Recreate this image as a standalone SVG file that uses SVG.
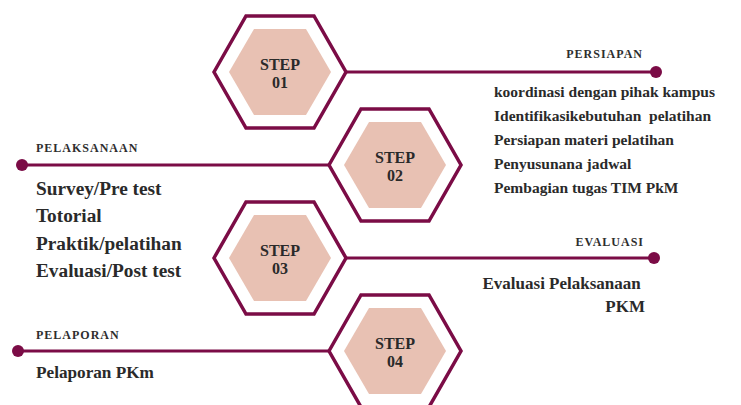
<svg xmlns="http://www.w3.org/2000/svg" width="741" height="405" viewBox="0 0 741 405">
<style>
.outer{fill:#fff;stroke:#7b0c46;stroke-width:3.5;stroke-linejoin:miter}
.inner{fill:#e8c1b3;stroke:none}
.step{font-family:"Liberation Serif",serif;font-weight:bold;font-size:16px;fill:#2a2a2a;text-anchor:middle}
.lbl{font-family:"Liberation Serif",serif;font-weight:bold;font-size:12px;letter-spacing:1px;fill:#2e2e2e}
.item{font-family:"Liberation Serif",serif;font-weight:bold;fill:#2a2a2a}
.conn{stroke:#7b0c46;stroke-width:3;fill:none}
.dot{fill:#7b0c46}
</style>
<g id="connectors">
<line class="conn" x1="346" y1="72" x2="656" y2="72"/>
<circle class="dot" cx="656" cy="72" r="6"/>
<line class="conn" x1="22" y1="165" x2="329" y2="165"/>
<circle class="dot" cx="22" cy="165" r="6"/>
<line class="conn" x1="346" y1="258" x2="654" y2="258"/>
<circle class="dot" cx="654" cy="258" r="6"/>
<line class="conn" x1="18" y1="351" x2="329" y2="351"/>
<circle class="dot" cx="18" cy="351" r="6"/>
</g>
<g id="step01">
<polygon class="outer" points="214,72 246,16 314,16 346,72 314,128 246,128"/>
<polygon class="inner" points="229,72 254,29 306,29 331,72 306,115 254,115"/>
<text class="step" x="280" y="70">STEP</text>
<text class="step" x="280" y="88">01</text>
</g>
<g id="step02">
<polygon class="outer" points="329,165 361,109 429,109 461,165 429,221 361,221"/>
<polygon class="inner" points="344,165 369,122 421,122 446,165 421,208 369,208"/>
<text class="step" x="395" y="163">STEP</text>
<text class="step" x="395" y="181">02</text>
</g>
<g id="step03">
<polygon class="outer" points="214,258 246,202 314,202 346,258 314,314 246,314"/>
<polygon class="inner" points="229,258 254,215 306,215 331,258 306,301 254,301"/>
<text class="step" x="280" y="256">STEP</text>
<text class="step" x="280" y="274">03</text>
</g>
<g id="step04">
<polygon class="outer" points="329,351 361,295 429,295 461,351 429,407 361,407"/>
<polygon class="inner" points="344,351 369,308 421,308 446,351 421,394 369,394"/>
<text class="step" x="395" y="349">STEP</text>
<text class="step" x="395" y="367">04</text>
</g>
<g id="persiapan">
<text class="lbl" x="643" y="58" text-anchor="end">PERSIAPAN</text>
<text class="item" font-size="15.5" x="494">
<tspan x="494" y="97">koordinasi dengan pihak kampus</tspan>
<tspan x="494" y="121">Identifikasikebutuhan&#160; pelatihan</tspan>
<tspan x="494" y="145">Persiapan materi pelatihan</tspan>
<tspan x="494" y="169">Penyusunana jadwal</tspan>
<tspan x="494" y="193">Pembagian tugas TIM PkM</tspan>
</text>
</g>
<g id="pelaksanaan">
<text class="lbl" x="36" y="152">PELAKSANAAN</text>
<text class="item" font-size="19.3">
<tspan x="36" y="195">Survey/Pre test</tspan>
<tspan x="36" y="222">Totorial</tspan>
<tspan x="36" y="250">Praktik/pelatihan</tspan>
<tspan x="36" y="277">Evaluasi/Post test</tspan>
</text>
</g>
<g id="evaluasi">
<text class="lbl" x="644" y="246" text-anchor="end">EVALUASI</text>
<text class="item" font-size="17" text-anchor="end">
<tspan x="645" y="289">Evaluasi Pelaksanaan</tspan>
<tspan x="645" y="312">PKM</tspan>
</text>
</g>
<g id="pelaporan">
<text class="lbl" x="36" y="339">PELAPORAN</text>
<text class="item" font-size="17.2" x="36" y="378">Pelaporan PKm</text>
</g>
</svg>
